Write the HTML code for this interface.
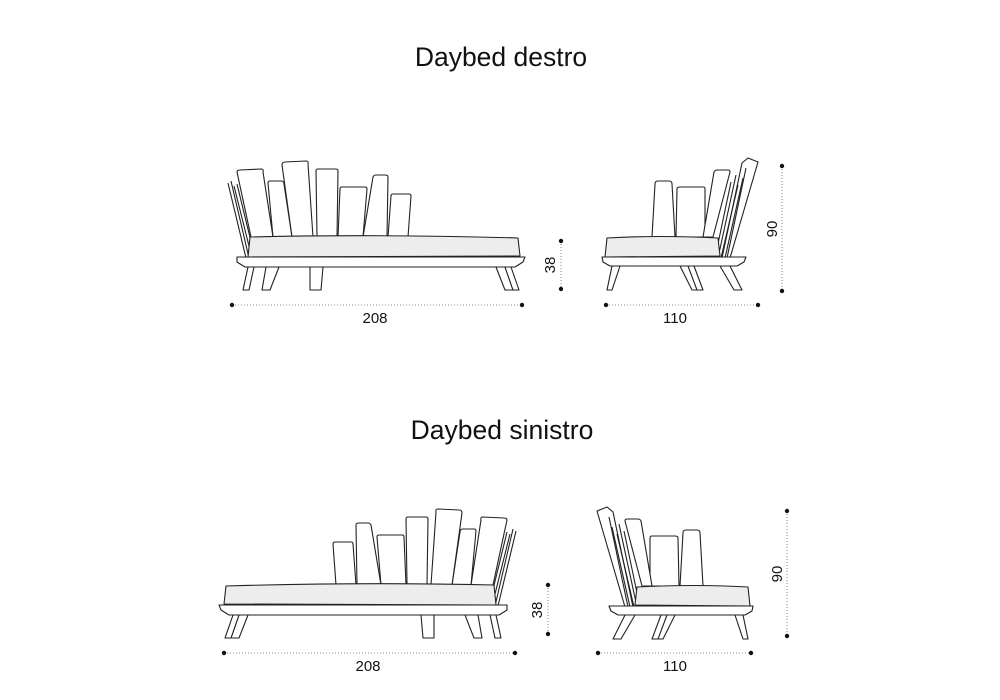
<!DOCTYPE html>
<html><head><meta charset="utf-8"><style>
html,body{margin:0;padding:0;background:#fff;width:1000px;height:700px;overflow:hidden}
svg text{font-family:"Liberation Sans",sans-serif;fill:#111}
</style></head><body>
<svg width="1000" height="700" viewBox="0 0 1000 700" xmlns="http://www.w3.org/2000/svg">
<defs>
<g id="long" fill="#fff" stroke="#222" stroke-width="1.1" stroke-linejoin="round">
  <line x1="228" y1="183" x2="246" y2="258"/><line x1="231" y1="181" x2="249" y2="258"/>
  <line x1="234" y1="186" x2="252" y2="258"/><line x1="237" y1="184" x2="255" y2="258"/>
  <path d="M237,172 Q237,170 240,170 L261,169 Q264,169 263,172 L273,237 L251,237 Z"/>
  <path d="M268,183 Q268,181 270,181 L281,181 Q284,181 284,184 L292,237 L273,237 Z"/>
  <path d="M282,165 Q282,162 285,162 L306,161 Q309,161 308,164 L313,237 L292,237 Z"/>
  <path d="M316,171 Q316,169 318,169 L336,169 Q338,169 338,171 L337,237 L317,237 Z"/>
  <path d="M340,189 Q340,187 342,187 L365,187 Q367,187 367,189 L363,237 L338,237 Z"/>
  <path d="M373,177 Q374,175 376,175 L385,175 Q388,175 388,177 L387,237 L363,237 Z"/>
  <path d="M391,196 Q391,194 393,194 L409,194 Q411,194 411,196 L408,237 L388,237 Z"/>
  <path d="M250,237 Q380,234 518,238 L520,256 L248,257 Z" fill="#ededed"/>
  <path d="M237,257 L525,257 L523,262 L515,267 L245,267 L237,262 Z"/>
  <path d="M248,267 L254,267 L249,290 L243,290 Z"/><path d="M266,267 L279,267 L270,290 L262,290 Z"/>
  <path d="M310,267 L323,267 L321,290 L310,290 Z"/>
  <path d="M496,267 L505,267 L513,290 L505,290 Z"/><path d="M505,267 L511,267 L519,290 L513,290 Z"/>
</g>
<g id="short" fill="#fff" stroke="#222" stroke-width="1.1" stroke-linejoin="round">
  <path d="M655,184 Q655,181 658,181 L669,181 Q672,181 672,184 L675,237 L652,237 Z"/>
  <path d="M677,189 Q677,187 680,187 L703,187 Q705,187 705,189 L705,237 L676,237 Z"/>
  <path d="M714,172 Q715,170 717,170 L728,170 Q730,170 730,172 L713,237 L703,237 Z"/>
  <path d="M742,163 L748,158 L758,162 L730,258 L722,258 Z"/>
  <line x1="746" y1="168" x2="727" y2="258"/><line x1="736" y1="175" x2="718" y2="258"/>
  <line x1="743" y1="178" x2="725" y2="258"/><line x1="731" y1="182" x2="715" y2="258"/>
  <line x1="738" y1="185" x2="721" y2="258"/>
  <path d="M607,238 Q660,235 718,238 L720,256 L605,257 Z" fill="#ededed"/>
  <path d="M602,257 L746,257 L744,262 L737,266 L610,266 L603,262 Z"/>
  <path d="M612,266 L620,266 L612,290 L607,290 Z"/>
  <path d="M680,266 L690,266 L700,290 L692,290 Z"/><path d="M688,266 L694,266 L703,290 L697,290 Z"/>
  <path d="M720,266 L730,266 L742,290 L734,290 Z"/>
</g>
</defs>
<text x="501" y="66" font-size="26.5" text-anchor="middle">Daybed destro</text>
<text x="502" y="439" font-size="26.5" text-anchor="middle">Daybed sinistro</text>

<use href="#long"/>
<use href="#short"/>
<g transform="translate(744,348) scale(-1,1)"><use href="#long"/></g>
<g transform="translate(1355,349) scale(-1,1)"><use href="#short"/></g>

<g stroke="#666" stroke-width="0.8" stroke-dasharray="1,2" fill="none">
  <line x1="232" y1="305" x2="522" y2="305"/><line x1="561" y1="241" x2="561" y2="289"/>
  <line x1="606" y1="305" x2="758" y2="305"/><line x1="782" y1="166" x2="782" y2="291"/>
  <line x1="224" y1="653" x2="515" y2="653"/><line x1="548" y1="585" x2="548" y2="634"/>
  <line x1="598" y1="653" x2="751" y2="653"/><line x1="787" y1="511" x2="787" y2="636"/>
</g>
<g fill="#111">
  <circle cx="232" cy="305" r="2.2"/><circle cx="522" cy="305" r="2.2"/>
  <circle cx="561" cy="241" r="2.2"/><circle cx="561" cy="289" r="2.2"/>
  <circle cx="606" cy="305" r="2.2"/><circle cx="758" cy="305" r="2.2"/>
  <circle cx="782" cy="166" r="2.2"/><circle cx="782" cy="291" r="2.2"/>
  <circle cx="224" cy="653" r="2.2"/><circle cx="515" cy="653" r="2.2"/>
  <circle cx="548" cy="585" r="2.2"/><circle cx="548" cy="634" r="2.2"/>
  <circle cx="598" cy="653" r="2.2"/><circle cx="751" cy="653" r="2.2"/>
  <circle cx="787" cy="511" r="2.2"/><circle cx="787" cy="636" r="2.2"/>
</g>
<g font-size="15" text-anchor="middle">
  <text x="375" y="323">208</text>
  <text x="675" y="323">110</text>
  <text x="368" y="671">208</text>
  <text x="675" y="671">110</text>
  <text transform="translate(555,265) rotate(-90)">38</text>
  <text transform="translate(777,229) rotate(-90)">90</text>
  <text transform="translate(542,610) rotate(-90)">38</text>
  <text transform="translate(782,574) rotate(-90)">90</text>
</g>
</svg>
</body></html>
